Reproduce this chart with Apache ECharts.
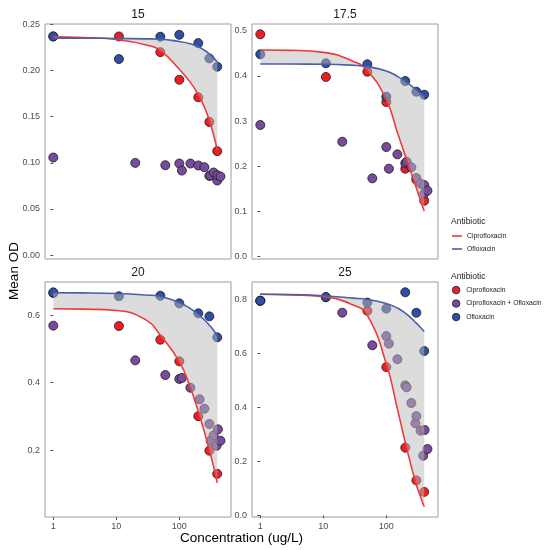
<!DOCTYPE html>
<html><head><meta charset="utf-8">
<script src="https://cdn.jsdelivr.net/npm/echarts@6/dist/echarts.min.js"></script>
<style>html,body{margin:0;padding:0;background:#fff}#c{width:547px;height:550px}</style>
</head><body><div id="c"></div>
<script>
// ---- data ----
const panelTitles = ['15', '17.5', '20', '25'];
const xTickValues = [1, 10, 100];
const xTickLabels = ['1', '10', '100'];
const yTicks15 = [0, 0.05, 0.10, 0.15, 0.20, 0.25];
const yTicks175 = [0, 0.1, 0.2, 0.3, 0.4, 0.5];
const yTicks20 = [0.2, 0.4, 0.6];
const yTicks25 = [0, 0.2, 0.4, 0.6, 0.8];
const groupNames = ['Ciprofloxacin', 'Ciprofloxacin + Ofloxacin', 'Ofloxacin'];

// measured points [concentration ug/L, mean OD]
const cipro15 = [[1,0.237],[11,0.237],[50,0.220],[100,0.190],[200,0.171],[300,0.1443],[400,0.1126]];
const combo15 = [[1,0.1057],[20,0.0999],[60,0.0974],[100,0.0992],[110,0.0916],[150,0.0992],[200,0.0971],[250,0.0952],[300,0.0858],[310,0.0862],[350,0.0895],[400,0.0808],[400,0.0866],[450,0.0852]];
const oflox15 = [[1,0.237],[11,0.2125],[50,0.2367],[100,0.2388],[200,0.2298],[300,0.2132],[400,0.2042]];

const cipro175 = [[1,0.492],[11,0.3976],[50,0.4093],[100,0.3423],[200,0.1947],[300,0.170],[400,0.1239]];
const combo175 = [[1,0.2914],[20,0.2544],[60,0.1734],[100,0.2427],[110,0.1947],[150,0.2265],[200,0.2066],[210,0.210],[250,0.1977],[300,0.174],[350,0.1615],[400,0.1586],[400,0.140],[450,0.146]];
const oflox175 = [[1,0.4478],[11,0.4279],[50,0.4257],[100,0.354],[200,0.3887],[300,0.365],[400,0.3584]];

const cipro20 = [[1,0.665],[11,0.5675],[50,0.527],[100,0.463],[200,0.301],[300,0.199],[400,0.1305]];
const combo20 = [[1,0.5685],[20,0.466],[60,0.4226],[100,0.411],[110,0.414],[150,0.385],[210,0.351],[250,0.323],[300,0.278],[315,0.2284],[350,0.2443],[390,0.2136],[410,0.262],[450,0.2284]];
const oflox20 = [[1,0.667],[11,0.6553],[50,0.657],[100,0.6345],[200,0.605],[300,0.596],[400,0.534]];

const cipro25 = [[1,0.796],[11,0.809],[50,0.759],[100,0.550],[200,0.251],[300,0.1295],[400,0.0868]];
const combo25 = [[1,0.796],[20,0.7518],[60,0.631],[100,0.665],[110,0.637],[150,0.579],[200,0.482],[210,0.475],[250,0.4167],[290,0.3414],[300,0.368],[350,0.314],[385,0.221],[405,0.3165],[450,0.246]];
const oflox25 = [[1,0.7963],[11,0.810],[50,0.7893],[100,0.767],[200,0.8275],[300,0.7515],[400,0.6097]];

// fitted curves at these concentrations
const fitX = [1, 3, 10, 30, 50, 100, 150, 200, 250, 300, 350, 400];
const fitCipro15 = [0.2365,0.2359,0.2338,0.2278,0.2217,0.2015,0.1872,0.1740,0.1605,0.1460,0.1305,0.1136];
const fitOflox15 = [0.2352,0.2351,0.2348,0.2344,0.2340,0.2315,0.2290,0.2258,0.2220,0.2180,0.2138,0.2095];
const fitCipro175 = [0.4573,0.4565,0.4520,0.4320,0.4120,0.3470,0.2750,0.2240,0.1840,0.1520,0.1240,0.1010];
const fitOflox175 = [0.4263,0.4262,0.4258,0.4235,0.4205,0.4110,0.3990,0.3880,0.3780,0.3690,0.3610,0.3540];
const fitCipro20 = [0.6187,0.6175,0.6135,0.5850,0.5400,0.4620,0.3850,0.3150,0.2550,0.2000,0.1520,0.1040];
const fitOflox20 = [0.6660,0.6655,0.6635,0.6590,0.6550,0.6370,0.6190,0.6020,0.5860,0.5700,0.5550,0.5390];
const fitCipro25 = [0.8200,0.8180,0.8110,0.7800,0.7420,0.5620,0.3950,0.2700,0.1800,0.1130,0.0680,0.0320];
const fitOflox25 = [0.8200,0.8195,0.8145,0.8060,0.8010,0.7860,0.7690,0.7500,0.7310,0.7130,0.6970,0.6820];

// ---- styling / layout ----
const FONT = '"Liberation Sans", Arial, Helvetica, sans-serif';
const COL = { red: '#EE1D24', purple: '#7A4A9E', blue: '#2F4FA3', redLine: '#F03A3A', blueLine: '#4A5EAD', ribbon: 'rgba(185,185,185,0.5)' };
const panels = [
  { title: panelTitles[0], left: 45,  top: 24,  pts: [cipro15, combo15, oflox15], fit: [fitCipro15, fitOflox15], ymin: -0.0043, ymax: 0.2505, ticks: yTicks15, dec: 2, bottom: false },
  { title: panelTitles[1], left: 252, top: 24,  pts: [cipro175, combo175, oflox175], fit: [fitCipro175, fitOflox175], ymin: -0.005, ymax: 0.5148, ticks: yTicks175, dec: 1, bottom: false },
  { title: panelTitles[2], left: 45,  top: 282, pts: [cipro20, combo20, oflox20], fit: [fitCipro20, fitOflox20], ymin: 0.003, ymax: 0.6976, ticks: yTicks20, dec: 1, bottom: true },
  { title: panelTitles[3], left: 252, top: 282, pts: [cipro25, combo25, oflox25], fit: [fitCipro25, fitOflox25], ymin: -0.0063, ymax: 0.8657, ticks: yTicks25, dec: 1, bottom: true }
];
const PW = 186, PH = 235;
const XMIN = -0.1317, XMAX = 2.8206;
const SMOOTH = 0.5;
const lg = c => Math.log10(c);

// pixel-space tracing of a smoothed curve (same control-point rule as the line series)
function traceSmooth(P, smooth) {
  const out = [P[0]];
  let cp0 = P[0].slice();
  const mn = Math.min, mx = Math.max;
  for (let i = 1; i < P.length; i++) {
    const [px, py] = P[i - 1], [x, y] = P[i];
    let cp1, nextCp0;
    if (i === P.length - 1) { cp1 = [x, y]; nextCp0 = [x, y]; }
    else {
      const [nx, ny] = P[i + 1];
      let vx = nx - px, vy = ny - py;
      const l0 = Math.hypot(x - px, y - py), l1 = Math.hypot(nx - x, ny - y);
      const r = l1 / (l0 + l1);
      let ncx = x + vx * smooth * r, ncy = y + vy * smooth * r;
      ncx = mx(mn(ncx, mx(nx, x)), mn(nx, x)); ncy = mx(mn(ncy, mx(ny, y)), mn(ny, y));
      vx = ncx - x; vy = ncy - y;
      let c1x = x - vx * l0 / l1, c1y = y - vy * l0 / l1;
      c1x = mx(mn(c1x, mx(px, x)), mn(px, x)); c1y = mx(mn(c1y, mx(py, y)), mn(py, y));
      vx = x - c1x; vy = y - c1y;
      ncx = x + vx * l1 / l0; ncy = y + vy * l1 / l0;
      cp1 = [c1x, c1y]; nextCp0 = [ncx, ncy];
    }
    const N = 16;
    for (let s = 1; s <= N; s++) {
      const t = s / N, u = 1 - t;
      out.push([
        u*u*u*px + 3*u*u*t*cp0[0] + 3*u*t*t*cp1[0] + t*t*t*x,
        u*u*u*py + 3*u*u*t*cp0[1] + 3*u*t*t*cp1[1] + t*t*t*y
      ]);
    }
    cp0 = nextCp0;
  }
  return out;
}

const grid = [], xAxis = [], yAxis = [], series = [], graphic = [];
const pointColors = [COL.red, COL.purple, COL.blue];

panels.forEach((p, i) => {
  grid.push({ left: p.left, top: p.top, width: PW, height: PH, show: true, borderColor: '#9c9c9c', borderWidth: 1, backgroundColor: 'transparent' });
  const xt = xTickValues.map(lg);
  xAxis.push({
    gridIndex: i, type: 'value', min: XMIN, max: XMAX,
    axisLine: { show: false }, splitLine: { show: false },
    axisTick: { show: p.bottom, customValues: xt, length: 3, lineStyle: { color: '#555', width: 1 } },
    axisLabel: { show: p.bottom, customValues: xt, margin: 5, color: '#4d4d4d', fontSize: 9, fontFamily: FONT,
      formatter: v => { const k = xt.findIndex(t => Math.abs(t - v) < 1e-6); return k >= 0 ? xTickLabels[k] : ''; } }
  });
  yAxis.push({
    gridIndex: i, type: 'value', min: p.ymin, max: p.ymax,
    axisLine: { show: false }, splitLine: { show: false },
    axisTick: { show: true, customValues: p.ticks, length: 3, lineStyle: { color: '#555', width: 1 } },
    axisLabel: { show: true, customValues: p.ticks, margin: 5, color: '#4d4d4d', fontSize: 9, fontFamily: FONT,
      formatter: v => v.toFixed(p.dec) }
  });
  // points
  p.pts.forEach((arr, g) => {
    series.push({
      type: 'scatter', name: groupNames[g], xAxisIndex: i, yAxisIndex: i, z: 2,
      symbol: 'circle', symbolSize: 9,
      itemStyle: { color: pointColors[g], borderColor: '#1a1a1a', borderWidth: 0.8, opacity: 1 },
      data: arr.map(([c, v]) => [lg(c), v])
    });
  });
  const [fc, fo] = p.fit;
  const redData = fitX.map((c, k) => [lg(c), fc[k]]);
  const blueData = fitX.map((c, k) => [lg(c), fo[k]]);
  // ribbon between the two fitted curves, drawn over the points
  series.push({
    type: 'custom', name: 'ribbon' + i, xAxisIndex: i, yAxisIndex: i, z: 3, silent: true, clip: true,
    data: [redData[0]],
    renderItem: (params, api) => {
      const r = traceSmooth(redData.map(d => api.coord(d)), SMOOTH);
      const b = traceSmooth(blueData.map(d => api.coord(d)), SMOOTH);
      return { type: 'polygon', shape: { points: r.concat(b.reverse()) }, style: { fill: COL.ribbon, stroke: null } };
    }
  });
  // fitted lines
  series.push({ type: 'line', name: 'Ciprofloxacin', xAxisIndex: i, yAxisIndex: i, z: 4, smooth: SMOOTH, showSymbol: false,
    lineStyle: { color: COL.redLine, width: 1.6 }, itemStyle: { color: COL.redLine }, data: redData });
  series.push({ type: 'line', name: 'Ofloxacin', xAxisIndex: i, yAxisIndex: i, z: 4, smooth: SMOOTH, showSymbol: false,
    lineStyle: { color: COL.blueLine, width: 1.6 }, itemStyle: { color: COL.blueLine }, data: blueData });
  // strip title
  graphic.push({ type: 'text', x: p.left + PW / 2, y: p.top - 9, style: { text: p.title, fontSize: 12, fontFamily: FONT, fill: '#1a1a1a', align: 'center', verticalAlign: 'middle' } });
});

graphic.push({ type: 'text', x: 14, y: 271, rotation: Math.PI / 2, style: { text: 'Mean OD', fontSize: 13.5, fontFamily: FONT, fill: '#000', align: 'center', verticalAlign: 'middle' } });
graphic.push({ type: 'text', x: 241.5, y: 538, style: { text: 'Concentration (ug/L)', fontSize: 13.5, fontFamily: FONT, fill: '#000', align: 'center', verticalAlign: 'middle' } });
graphic.push({ type: 'text', x: 451, y: 222, style: { text: 'Antibiotic', fontSize: 8.5, fontFamily: FONT, fill: '#1a1a1a', align: 'left', verticalAlign: 'middle' } });
graphic.push({ type: 'text', x: 451, y: 277, style: { text: 'Antibiotic', fontSize: 8.5, fontFamily: FONT, fill: '#1a1a1a', align: 'left', verticalAlign: 'middle' } });

const legend = [
  { orient: 'vertical', left: 452, top: 229.5, padding: 0, itemGap: 0, itemWidth: 10, itemHeight: 1.6, icon: 'rect',
    selectedMode: false,
    textStyle: { fontSize: 6.8, lineHeight: 13, color: '#1a1a1a', fontFamily: FONT },
    itemStyle: { borderWidth: 0 },
    data: [ { name: 'Ciprofloxacin', itemStyle: { color: COL.redLine } }, { name: 'Ofloxacin', itemStyle: { color: COL.blueLine } } ] },
  { orient: 'vertical', left: 452, top: 283.3, padding: 0, itemGap: 0, itemWidth: 10, itemHeight: 7.5, icon: 'circle',
    selectedMode: false,
    textStyle: { fontSize: 6.8, lineHeight: 13.5, color: '#1a1a1a', fontFamily: FONT },
    itemStyle: { borderColor: '#1a1a1a', borderWidth: 0.8 },
    data: [ { name: 'Ciprofloxacin', itemStyle: { color: COL.red } }, { name: 'Ciprofloxacin + Ofloxacin', itemStyle: { color: COL.purple } }, { name: 'Ofloxacin', itemStyle: { color: COL.blue } } ] }
];

const chart = echarts.init(document.getElementById('c'), null, { renderer: 'canvas' });
chart.setOption({ animation: false, backgroundColor: '#fff', grid, xAxis, yAxis, series, graphic, legend });
</script></body></html>
